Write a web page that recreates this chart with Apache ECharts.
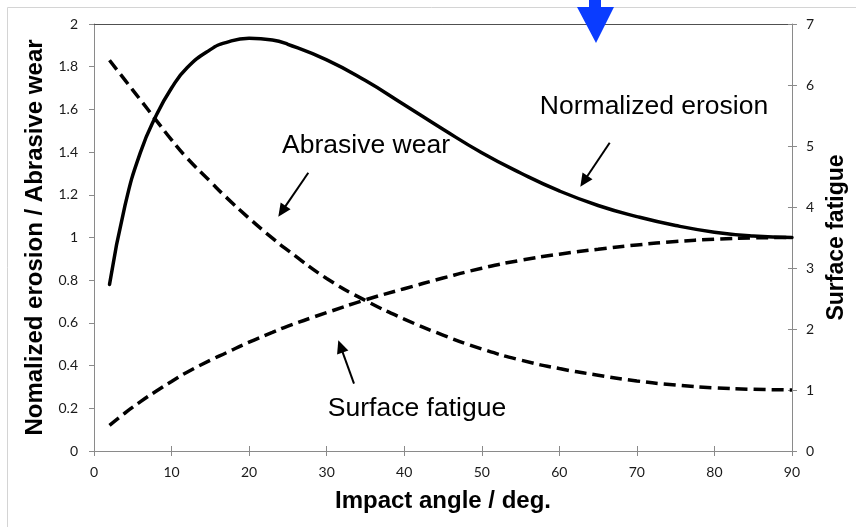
<!DOCTYPE html>
<html>
<head>
<meta charset="utf-8">
<script src="https://cdn.jsdelivr.net/npm/echarts@6/dist/echarts.min.js"></script>
<style>
  html, body { margin: 0; padding: 0; background: #fff; }
  #chart { width: 856px; height: 527px; }
</style>
</head>
<body>
<div id="chart"></div>
<script>
// Impact angle (deg.) at which each curve is sampled
const angles = [2, 4, 6, 8, 10, 12, 15, 17, 20, 23, 25, 30, 35, 40, 45, 50, 55, 60, 65, 70, 75, 80, 85, 90];

// Left axis: normalized erosion and abrasive wear
const normalizedErosion = [0.78, 1.15, 1.40, 1.57, 1.70, 1.795, 1.88, 1.913, 1.933, 1.925, 1.905, 1.832, 1.735, 1.622, 1.507, 1.397, 1.302, 1.218, 1.150, 1.098, 1.056, 1.025, 1.007, 1.0];
const abrasiveWear = [1.830, 1.737, 1.644, 1.550, 1.457, 1.372, 1.262, 1.190, 1.090, 0.997, 0.940, 0.808, 0.705, 0.618, 0.543, 0.478, 0.426, 0.386, 0.355, 0.328, 0.309, 0.296, 0.289, 0.286];

// Right axis: surface fatigue
const surfaceFatigue = [0.42, 0.623, 0.809, 0.98, 1.141, 1.292, 1.488, 1.607, 1.785, 1.943, 2.048, 2.268, 2.478, 2.66, 2.835, 2.996, 3.126, 3.227, 3.308, 3.378, 3.434, 3.472, 3.493, 3.5];

// Axis ranges
const angleRange = { min: 0, max: 90, step: 10 };
const leftRange = { min: 0, max: 2, step: 0.2 };
const rightRange = { min: 0, max: 7, step: 1 };

const pairs = (xs, ys) => xs.map((x, i) => [x, ys[i]]);

const AXIS_GREY = '#8a8a8a';
const tickFont = { fontFamily: 'Lato', fontSize: 14, color: '#1a1a1a' };
const titleFamily = '"Liberation Sans", Arial, sans-serif';
const titleFont = { fontFamily: titleFamily, fontWeight: 'bold', fontSize: 24, color: '#000' };
const noteFont = '26.5px "Liberation Sans", Arial, sans-serif';

// Straight pointer with a filled head, drawn from tail to tip
function pointer(x1, y1, x2, y2) {
  const dx = x2 - x1, dy = y2 - y1, len = Math.hypot(dx, dy);
  const ux = dx / len, uy = dy / len;
  const headLen = 13, headHalf = 6;
  const bx = x2 - ux * headLen, by = y2 - uy * headLen;
  return [
    { type: 'line', silent: true, shape: { x1: x1, y1: y1, x2: bx + ux * 2, y2: by + uy * 2 },
      style: { stroke: '#000', lineWidth: 2 } },
    { type: 'polygon', silent: true,
      shape: { points: [[x2, y2], [bx - uy * headHalf, by + ux * headHalf], [bx + uy * headHalf, by - ux * headHalf]] },
      style: { fill: '#000' } }
  ];
}

function note(text, x, y) {
  return { type: 'text', silent: true, x: x, y: y,
    style: { text: text, font: noteFont, fill: '#000', align: 'center', verticalAlign: 'middle' } };
}

const lineBase = { type: 'line', symbol: 'none', showSymbol: false, smooth: 0.5, z: 3 };

const option = {
  animation: false,
  backgroundColor: '#fff',
  grid: { left: 94, right: 64, top: 24, bottom: 76, containLabel: false },
  xAxis: [
    {
      type: 'value', position: 'bottom',
      min: angleRange.min, max: angleRange.max, interval: angleRange.step,
      axisLine: { show: true, onZero: false, lineStyle: { color: AXIS_GREY, width: 1 } },
      axisTick: { show: true, length: 5, lineStyle: { color: AXIS_GREY } },
      axisLabel: Object.assign({ margin: 14 }, tickFont),
      splitLine: { show: false },
      name: 'Impact angle / deg.', nameLocation: 'middle', nameGap: 38,
      nameTextStyle: titleFont
    },
    {
      // inner half of the crossing ticks
      type: 'value', position: 'bottom',
      min: angleRange.min, max: angleRange.max, interval: angleRange.step,
      axisLine: { show: false, onZero: false },
      axisTick: { show: true, inside: true, length: 5, lineStyle: { color: AXIS_GREY } },
      axisLabel: { show: false }, splitLine: { show: false }
    },
    {
      // frame line along the top of the plot
      type: 'value', position: 'top',
      min: angleRange.min, max: angleRange.max,
      axisLine: { show: true, onZero: false, lineStyle: { color: '#505050', width: 1 } },
      axisTick: { show: false }, axisLabel: { show: false }, splitLine: { show: false }
    }
  ],
  yAxis: [
    {
      type: 'value', position: 'left',
      min: leftRange.min, max: leftRange.max, interval: leftRange.step,
      axisLine: { show: true, onZero: false, lineStyle: { color: AXIS_GREY, width: 1 } },
      axisTick: { show: true, length: 5, lineStyle: { color: AXIS_GREY } },
      axisLabel: Object.assign({ margin: 16, formatter: v => String(Math.round(v * 10) / 10) }, tickFont),
      splitLine: { show: false },
      name: 'Nomalized erosion / Abrasive wear', nameLocation: 'middle', nameGap: 41, nameRotate: 90,
      nameTextStyle: titleFont
    },
    {
      type: 'value', position: 'right',
      min: rightRange.min, max: rightRange.max, interval: rightRange.step,
      axisLine: { show: true, onZero: false, lineStyle: { color: AXIS_GREY, width: 1 } },
      axisTick: { show: true, length: 5, lineStyle: { color: AXIS_GREY } },
      axisLabel: Object.assign({ margin: 14 }, tickFont),
      splitLine: { show: false },
      name: 'Surface fatigue', nameLocation: 'middle', nameGap: 32, nameRotate: 90,
      nameTextStyle: { fontFamily: titleFamily, fontWeight: 'bold', fontSize: 23, color: '#000' }
    },
    {
      // inner half of the crossing ticks on the right
      type: 'value', position: 'right',
      min: rightRange.min, max: rightRange.max, interval: rightRange.step,
      axisLine: { show: false, onZero: false },
      axisTick: { show: true, inside: true, length: 4, lineStyle: { color: AXIS_GREY } },
      axisLabel: { show: false }, splitLine: { show: false }
    }
  ],
  series: [
    Object.assign({}, lineBase, {
      name: 'Normalized erosion', xAxisIndex: 0, yAxisIndex: 0,
      data: pairs(angles, normalizedErosion),
      lineStyle: { color: '#000', width: 3.5, cap: 'round' }
    }),
    Object.assign({}, lineBase, {
      name: 'Abrasive wear', xAxisIndex: 0, yAxisIndex: 0,
      data: pairs(angles, abrasiveWear),
      lineStyle: { color: '#000', width: 3.5, type: [12, 6], cap: 'butt' }
    }),
    Object.assign({}, lineBase, {
      name: 'Surface fatigue', xAxisIndex: 0, yAxisIndex: 1,
      data: pairs(angles, surfaceFatigue),
      lineStyle: { color: '#000', width: 3.5, type: [12, 6], cap: 'butt' }
    })
  ],
  graphic: [
    // light frame round the chart area
    { type: 'polyline', silent: true, z: 0,
      shape: { points: [[7.5, 527], [7.5, 7.5], [856, 7.5]] },
      style: { stroke: '#d4d4d4', lineWidth: 1, fill: null } },
    // blue marker above the plot
    { type: 'polygon', silent: true, z: 10,
      shape: { points: [[589, 0], [601, 0], [601, 7], [614, 7], [596, 43], [577, 7], [589, 7]] },
      style: { fill: '#0a3cff' } },
    note('Normalized erosion', 654, 107),
    note('Abrasive wear', 366, 146),
    note('Surface fatigue', 417, 409)
  ]
    .concat(pointer(609.7, 142.7, 580.3, 186.7))
    .concat(pointer(308.3, 172.7, 278.3, 216.7))
    .concat(pointer(354, 383.7, 338.3, 340.3))
};

const chart = echarts.init(document.getElementById('chart'), null, { renderer: 'canvas' });
chart.setOption(option);
</script>
</body>
</html>
